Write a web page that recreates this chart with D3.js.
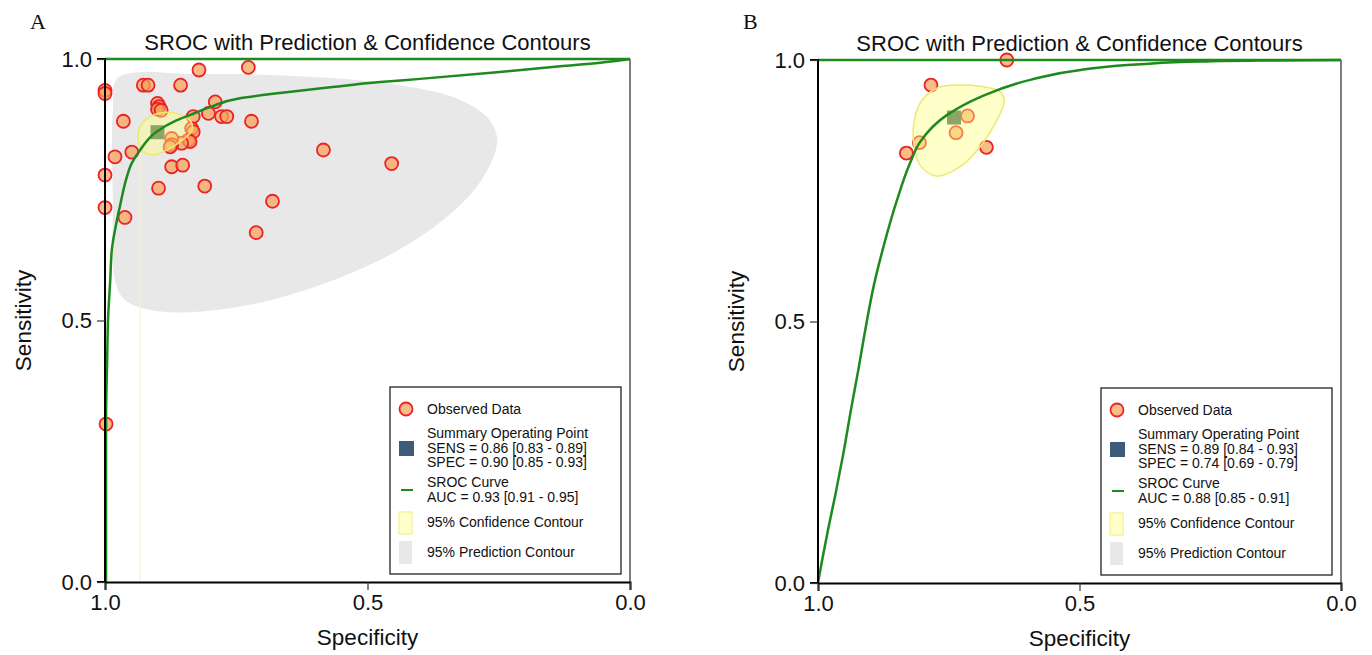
<!DOCTYPE html>
<html lang="en">
<head>
  <meta charset="UTF-8">
  <title>SROC with Prediction & Confidence Contours</title>
  <style>
    body { margin: 0; background: #fff; }
    svg { display: block; font-family: "Liberation Sans", Arial, sans-serif; }
  </style>
</head>
<body>
  <svg id="chart" width="1372" height="655"></svg>

  <script src="https://d3js.org/d3.v7.min.js"></script>
  <script>
    // ---- data (spec, sens pairs) ----
    const specTicks = [1.0, 0.5, 0.0];
    const sensTicks = [0.0, 0.5, 1.0];

    const obsA = [
      [0.821, 0.979], [0.727, 0.984], [1.0, 0.940], [1.0, 0.934],
      [0.927, 0.950], [0.918, 0.950], [0.856, 0.950],
      [0.900, 0.915], [0.897, 0.909], [0.900, 0.904], [0.893, 0.902],
      [0.790, 0.918], [0.803, 0.896], [0.778, 0.890], [0.768, 0.890],
      [0.721, 0.881], [0.832, 0.890], [0.965, 0.881],
      [0.835, 0.867], [0.832, 0.861], [0.841, 0.845], [0.838, 0.842],
      [0.854, 0.839], [0.873, 0.848], [0.873, 0.836], [0.876, 0.832],
      [0.981, 0.813], [0.949, 0.822], [0.873, 0.794], [0.852, 0.797],
      [1.0, 0.778], [0.898, 0.753], [0.810, 0.757], [0.584, 0.826],
      [0.454, 0.800], [0.681, 0.728], [0.712, 0.668], [1.0, 0.716],
      [0.962, 0.697], [0.998, 0.302]
    ];
    const obsB = [
      [0.639, 1.0], [0.784, 0.952], [0.714, 0.893], [0.736, 0.861],
      [0.806, 0.842], [0.831, 0.822], [0.678, 0.833]
    ];

    const summaryA = [0.90, 0.86];
    const summaryB = [0.74, 0.89];

    const srocA = [
      [0.998, 0.0], [0.998, 0.31], [0.996, 0.419], [0.994, 0.507], [0.990, 0.577],
      [0.987, 0.635], [0.979, 0.683], [0.971, 0.721], [0.960, 0.769], [0.949, 0.801],
      [0.933, 0.826], [0.903, 0.860], [0.863, 0.883], [0.838, 0.893], [0.800, 0.908],
      [0.743, 0.925], [0.667, 0.935], [0.571, 0.946], [0.476, 0.956], [0.400, 0.962],
      [0.248, 0.975], [0.133, 0.986], [0.057, 0.993], [0.0, 1.0]
    ];
    const srocB = [
      [1.0, 0.0], [0.992, 0.044], [0.981, 0.101], [0.967, 0.168], [0.952, 0.245],
      [0.937, 0.331], [0.923, 0.407], [0.908, 0.493], [0.893, 0.570], [0.874, 0.646],
      [0.849, 0.732], [0.824, 0.803], [0.805, 0.843], [0.753, 0.895], [0.690, 0.929],
      [0.594, 0.962], [0.498, 0.981], [0.383, 0.992], [0.268, 0.997], [0.153, 0.999],
      [0.0, 1.0]
    ];

    const confA = [
      [0.937, 0.845], [0.930, 0.876], [0.910, 0.892], [0.886, 0.898], [0.857, 0.894],
      [0.836, 0.880], [0.835, 0.862], [0.855, 0.843], [0.880, 0.827], [0.905, 0.817],
      [0.926, 0.822]
    ];
    const confTailA = [[0.933, 0.82], [0.933, 0.0]];
    const confB = [
      [0.766, 0.949], [0.690, 0.950], [0.651, 0.939], [0.644, 0.920], [0.658, 0.885],
      [0.690, 0.834], [0.728, 0.796], [0.773, 0.778], [0.805, 0.799], [0.817, 0.841],
      [0.817, 0.879], [0.805, 0.917], [0.785, 0.939]
    ];

    const predA = [
      [0.975, 0.964], [0.819, 0.971], [0.629, 0.967], [0.438, 0.950], [0.324, 0.922],
      [0.267, 0.883], [0.253, 0.845], [0.267, 0.797], [0.305, 0.740], [0.381, 0.673],
      [0.476, 0.616], [0.590, 0.568], [0.724, 0.530], [0.838, 0.516], [0.914, 0.520],
      [0.962, 0.539], [0.981, 0.577], [0.985, 0.730], [0.985, 0.902]
    ];

    const legendA = {
      sens: "SENS = 0.86 [0.83 - 0.89]",
      spec: "SPEC = 0.90 [0.85 - 0.93]",
      auc: "AUC = 0.93 [0.91 - 0.95]"
    };
    const legendB = {
      sens: "SENS = 0.89 [0.84 - 0.93]",
      spec: "SPEC = 0.74 [0.69 - 0.79]",
      auc: "AUC = 0.88 [0.85 - 0.91]"
    };

    // ---- drawing ----
    const svg = d3.select("#chart");
    svg.append("rect").attr("width", 1372).attr("height", 655).attr("fill", "#fff");

    const green = "#1e8a1e";

    function panel(cfg) {
      const x = d3.scaleLinear().domain([1, 0]).range([cfg.x0, cfg.x1]);
      const y = d3.scaleLinear().domain([0, 1]).range([cfg.yBot, cfg.yTop]);
      const g = svg.append("g");
      const line = d3.line().x(d => x(d[0])).y(d => y(d[1]));
      const closed = d3.line().x(d => x(d[0])).y(d => y(d[1])).curve(d3.curveCatmullRomClosed);

      // prediction contour
      if (cfg.pred) {
        g.append("path").attr("d", closed(cfg.pred)).attr("fill", "#e8e8e8");
      }
      if (cfg.confTail) {
        g.append("path").attr("d", line(cfg.confTail))
          .attr("stroke", "#f6f2c8").attr("stroke-width", 1).attr("fill", "none");
      }

      // observed data
      g.selectAll("circle.obs").data(cfg.obs).join("circle")
        .attr("class", "obs")
        .attr("cx", d => x(d[0])).attr("cy", d => y(d[1]))
        .attr("r", 6.5)
        .attr("fill", "#f7a25a").attr("fill-opacity", 0.72)
        .attr("stroke", "#ec2227").attr("stroke-width", 1.8);

      // summary point
      g.append("rect")
        .attr("x", x(cfg.summary[0]) - 7).attr("y", y(cfg.summary[1]) - 7)
        .attr("width", 14).attr("height", 14)
        .attr("fill", "#3f6250");

      // confidence contour
      g.append("path").attr("d", closed(cfg.conf))
        .attr("fill", "#ffff80").attr("fill-opacity", 0.42)
        .attr("stroke", "#efe870").attr("stroke-width", 1.5);

      // SROC curve
      g.append("path")
        .attr("d", line.curve(d3.curveMonotoneY)(cfg.sroc))
        .attr("fill", "none").attr("stroke", green).attr("stroke-width", 2.5);

      // frame: top green, right gray
      g.append("line")
        .attr("x1", x(1)).attr("x2", x(0)).attr("y1", y(1)).attr("y2", y(1))
        .attr("stroke", green).attr("stroke-width", 2.5);
      g.append("line")
        .attr("x1", x(0)).attr("x2", x(0)).attr("y1", y(1)).attr("y2", y(0))
        .attr("stroke", "#555").attr("stroke-width", 1.5);

      // axes
      const xAxis = g.append("g")
        .attr("transform", `translate(0,${cfg.yBot})`)
        .call(d3.axisBottom(x).tickValues(specTicks).tickFormat(d3.format(".1f")).tickSize(8).tickPadding(4));
      const yAxis = g.append("g")
        .attr("transform", `translate(${cfg.x0},0)`)
        .call(d3.axisLeft(y).tickValues(sensTicks).tickFormat(d3.format(".1f")).tickSize(8).tickPadding(5));
      [xAxis, yAxis].forEach(a => {
        a.select(".domain").attr("stroke", "#000").attr("stroke-width", 2);
        a.selectAll(".tick line").attr("stroke", "#333").attr("stroke-width", 1.2);
        a.selectAll(".tick text").attr("font-size", 22).attr("fill", "#111")
          .attr("font-family", "Liberation Sans, Arial, sans-serif");
      });
      yAxis.select(".domain").attr("d", `M-8,${cfg.yBot}H0V${cfg.yTop}H-8`);

      const cx = (cfg.x0 + cfg.x1) / 2;
      const cy = (cfg.yTop + cfg.yBot) / 2;

      g.append("text").attr("x", cx).attr("y", cfg.yTop - 9)
        .attr("text-anchor", "middle").attr("font-size", 22).attr("fill", "#111")
        .text("SROC with Prediction & Confidence Contours");
      g.append("text").attr("x", cx).attr("y", cfg.yBot + 63)
        .attr("text-anchor", "middle").attr("font-size", 22.5).attr("fill", "#111")
        .text("Specificity");
      g.append("text")
        .attr("transform", `translate(${cfg.x0 - 74},${cy}) rotate(-90)`)
        .attr("text-anchor", "middle").attr("font-size", 22.5).attr("fill", "#111")
        .text("Sensitivity");
      g.append("text").attr("x", cfg.x0 - 75).attr("y", 29)
        .attr("font-family", "Liberation Serif, Times New Roman, serif")
        .attr("font-size", 22).attr("fill", "#111")
        .text(cfg.letter);

      // legend
      const lw = 231, lh = 187;
      const lx = cfg.x1 - 9 - lw, ly = cfg.yBot - 8 - lh;
      const lg = g.append("g").attr("transform", `translate(${lx},${ly})`);
      lg.append("rect").attr("width", lw).attr("height", lh)
        .attr("fill", "#fff").attr("stroke", "#222").attr("stroke-width", 1.3);
      const tx = 37, fs = 14;
      const txt = (t, yy) => lg.append("text").attr("x", tx).attr("y", yy)
        .attr("font-size", fs).attr("fill", "#111").text(t);

      lg.append("circle").attr("cx", 16).attr("cy", 22).attr("r", 6.5)
        .attr("fill", "#f7a25a").attr("fill-opacity", 0.72)
        .attr("stroke", "#ec2227").attr("stroke-width", 1.8);
      txt("Observed Data", 27);

      lg.append("rect").attr("x", 9).attr("y", 54).attr("width", 15).attr("height", 15)
        .attr("fill", "#3e5b78");
      txt("Summary Operating Point", 51);
      txt(cfg.legend.sens, 66);
      txt(cfg.legend.spec, 80);

      lg.append("line").attr("x1", 11).attr("x2", 23).attr("y1", 103).attr("y2", 103)
        .attr("stroke", green).attr("stroke-width", 2);
      txt("SROC Curve", 100);
      txt(cfg.legend.auc, 115);

      lg.append("rect").attr("x", 9).attr("y", 125).attr("width", 13).attr("height", 22)
        .attr("fill", "#ffffcc").attr("stroke", "#f5f08a").attr("stroke-width", 1.2);
      txt("95% Confidence Contour", 140);

      lg.append("rect").attr("x", 9).attr("y", 154).attr("width", 13).attr("height", 23)
        .attr("fill", "#e8e8e8");
      txt("95% Prediction Contour", 170);
    }

    panel({
      letter: "A", x0: 105, x1: 630, yTop: 59, yBot: 582,
      obs: obsA, summary: summaryA, sroc: srocA, conf: confA, confTail: confTailA,
      pred: predA, legend: legendA
    });
    panel({
      letter: "B", x0: 818, x1: 1341, yTop: 60, yBot: 583,
      obs: obsB, summary: summaryB, sroc: srocB, conf: confB,
      pred: null, legend: legendB
    });
  </script>
</body>
</html>
